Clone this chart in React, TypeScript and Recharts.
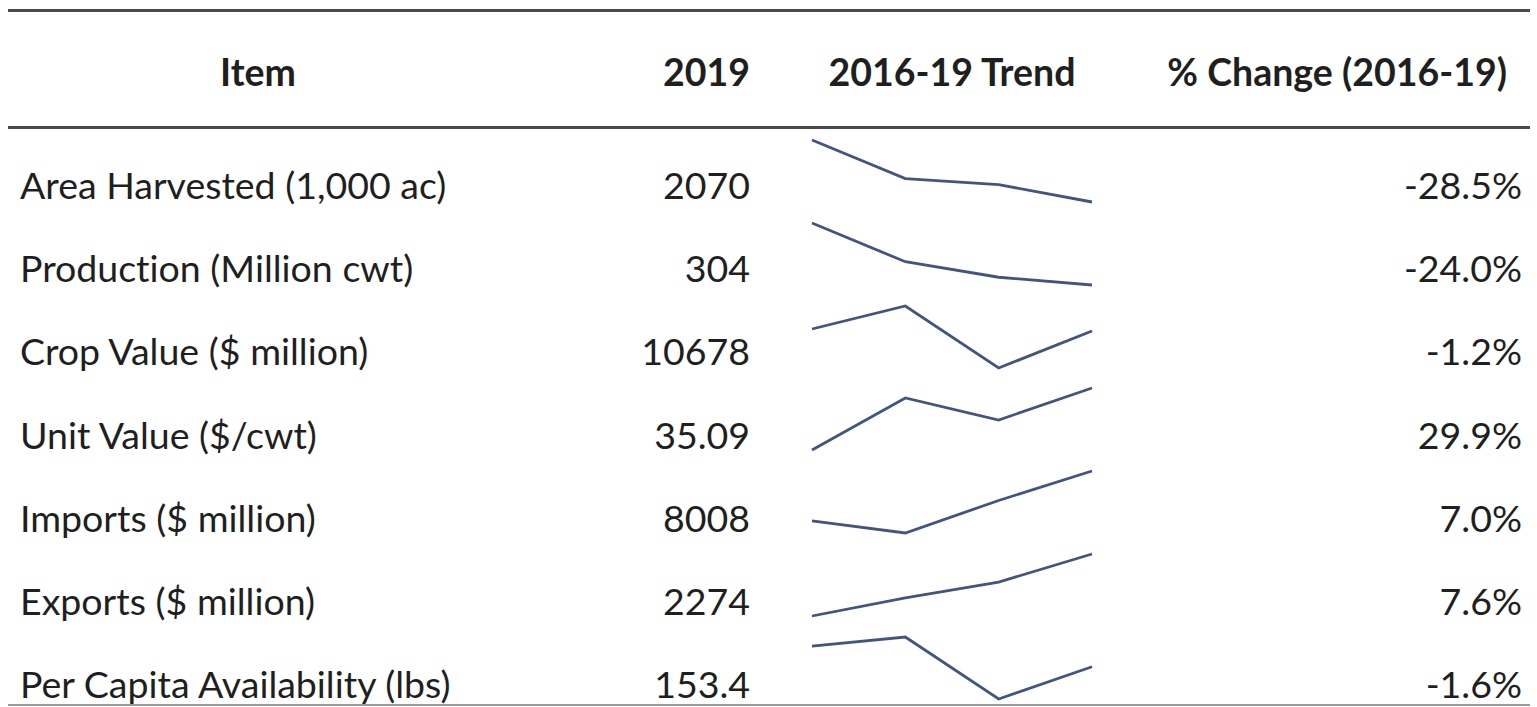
import React from 'react';
import { Line, LineChart, XAxis, YAxis } from 'recharts';

const items = [
	'Area Harvested (1,000 ac)',
	'Production (Million cwt)',
	'Crop Value ($ million)',
	'Unit Value ($/cwt)',
	'Imports ($ million)',
	'Exports ($ million)',
	'Per Capita Availability (lbs)',
];
const values2019 = ['2070', '304', '10678', '35.09', '8008', '2274', '153.4'];
const pctChange = ['-28.5%', '-24.0%', '-1.2%', '29.9%', '7.0%', '7.6%', '-1.6%'];
const years = [2016, 2017, 2018, 2019];

// 2016-19 values
const areaTrend = [2895, 2381, 2301, 2070];
const productionTrend = [400, 340, 316, 304];
const cropValueTrend = [10808, 12314, 8254, 10678];
const unitValueTrend = [27.01, 33.79, 30.92, 35.09];
const importsTrend = [7484, 7356, 7698, 8008];
const exportsTrend = [2113, 2160, 2201, 2274];
const perCapitaTrend = [155.9, 157.0, 149.5, 153.4];

const trends = [areaTrend, productionTrend, cropValueTrend, unitValueTrend, importsTrend, exportsTrend, perCapitaTrend];

const FONT = 'Lato, "Open Sans", sans-serif';
const TEXT = '#1f1f1f';
const LINE = '#41557f';
const ROW_Y = 185; // centre of first row text
const ROW_STEP = 83.2;

function Sparkline({ values }: { values: number[] }) {
	const data = years.map((y, i) => ({ year: y, v: values[i] }));
	return (
		<LineChart width={284} height={66} data={data} margin={{ top: 2, right: 2, bottom: 2, left: 2 }}>
			<XAxis dataKey="year" hide />
			<YAxis hide domain={['dataMin', 'dataMax']} />
			<Line type="linear" dataKey="v" stroke={LINE} strokeWidth={2.8} dot={false} isAnimationActive={false} />
		</LineChart>
	);
}

export default function App() {
	const textBase: React.CSSProperties = {
		position: 'absolute',
		fontFamily: FONT,
		fontSize: 37.5,
		color: TEXT,
		lineHeight: '44px',
		whiteSpace: 'nowrap',
		fontVariantLigatures: 'none',
	};
	return (
		<div style={{ position: 'absolute', left: 0, top: 0, width: 1537, height: 707, background: '#fff', overflow: 'hidden' }}>
			<div style={{ position: 'absolute', left: 8, top: 9, width: 1522, height: 3, background: '#4a4a4a' }} />
			<div style={{ position: 'absolute', left: 8, top: 126, width: 1522, height: 3, background: '#4a4a4a' }} />
			<div style={{ position: 'absolute', left: 8, top: 704, width: 1522, height: 2, background: '#9a9a9a' }} />

			<div style={{ ...textBase, fontWeight: 700, left: 158, width: 200, textAlign: 'center', top: 50 }}>Item</div>
			<div style={{ ...textBase, fontWeight: 700, left: 550, width: 200, textAlign: 'right', top: 50 }}>2019</div>
			<div style={{ ...textBase, fontWeight: 700, left: 802, width: 300, textAlign: 'center', top: 50 }}>2016-19 Trend</div>
			<div style={{ ...textBase, fontWeight: 700, left: 1105, width: 402, textAlign: 'right', top: 50 }}>% Change (2016-19)</div>

			{items.map((name, i) => {
				const cy = ROW_Y + i * ROW_STEP;
				return (
					<React.Fragment key={name}>
						<div style={{ ...textBase, left: 20, top: cy - 22 }}>{name}</div>
						<div style={{ ...textBase, left: 550, width: 200, textAlign: 'right', top: cy - 22 }}>{values2019[i]}</div>
						<div style={{ ...textBase, left: 1222, width: 300, textAlign: 'right', top: cy - 22 }}>{pctChange[i]}</div>
						<div style={{ position: 'absolute', left: 810, top: 140 + i * 82.8 - 2 }}>
							<Sparkline values={trends[i]} />
						</div>
					</React.Fragment>
				);
			})}
		</div>
	);
}
